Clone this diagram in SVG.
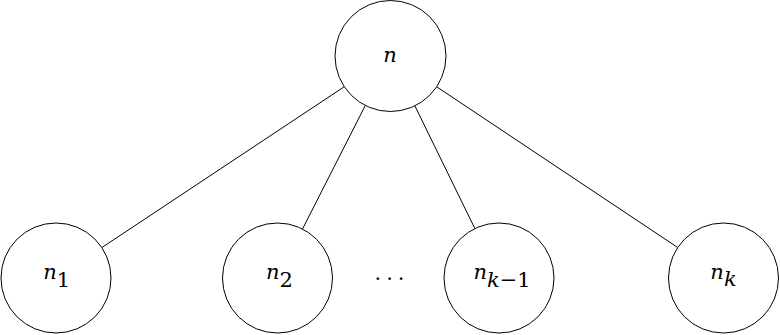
<svg xmlns="http://www.w3.org/2000/svg" width="780" height="335" viewBox="0 0 780 335">
<style>
.node{fill:#fff;stroke:#000;stroke-width:1}
.edge{stroke:#000;stroke-width:1;fill:none}
.lbl{font-family:'DejaVu Serif',serif;font-size:21px;fill:#000;text-anchor:middle}
.it{font-style:italic}
</style>
<rect width="780" height="335" fill="#fff"/>
<g id="connectors">
<line class="edge" x1="344.3" y1="86.7" x2="101.8" y2="247.6"/>
<line class="edge" x1="365.3" y1="105.5" x2="302.5" y2="229"/>
<line class="edge" x1="414.9" y1="105.9" x2="474.9" y2="228.6"/>
<line class="edge" x1="436.7" y1="86.8" x2="677.7" y2="247.5"/>
</g>
<g id="node-n">
<circle class="node" cx="390.5" cy="56" r="55.5"/>
<text class="lbl it" x="390" y="61.5">n</text>
</g>
<g id="node-n1">
<circle class="node" cx="56" cy="278" r="55"/>
<text class="lbl" x="56.6" y="279"><tspan class="it">n</tspan><tspan dy="8">1</tspan></text>
</g>
<g id="node-n2">
<circle class="node" cx="277.5" cy="278" r="55"/>
<text class="lbl" x="279.5" y="279"><tspan class="it">n</tspan><tspan dy="8">2</tspan></text>
</g>
<g id="dots">
<text class="lbl" x="392" y="280" letter-spacing="5">...</text>
</g>
<g id="node-nk-1">
<circle class="node" cx="499" cy="278" r="55"/>
<text class="lbl" x="502" y="279"><tspan class="it">n</tspan><tspan dy="8"><tspan class="it">k</tspan>−1</tspan></text>
</g>
<g id="node-nk">
<circle class="node" cx="723.5" cy="278" r="55"/>
<text class="lbl" x="723.5" y="279"><tspan class="it">n</tspan><tspan class="it" dy="6.5">k</tspan></text>
</g>
</svg>
